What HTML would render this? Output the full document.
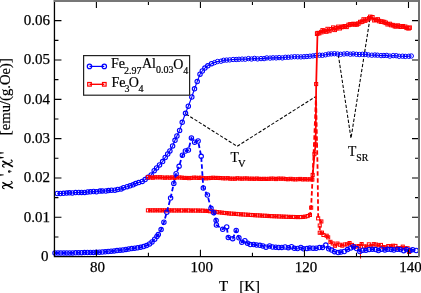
<!DOCTYPE html>
<html><head><meta charset="utf-8"><style>
html,body{margin:0;padding:0;background:#fff;}
body{width:421px;height:293px;overflow:hidden;}
svg{display:block;font-family:"Liberation Serif",serif;will-change:transform;}
</style></head><body>
<svg width="421" height="293" viewBox="0 0 421 293">
<rect width="421" height="293" fill="#fff"/>
<g font-size="15" fill="#000" stroke="#000" stroke-width="0.25"><text x="97.4" y="271.6" text-anchor="middle">80</text><text x="201.8" y="271.6" text-anchor="middle">100</text><text x="306.1" y="271.6" text-anchor="middle">120</text><text x="410.5" y="271.6" text-anchor="middle">140</text><text x="48.5" y="261.0" text-anchor="end">0</text><text x="49.9" y="221.7" text-anchor="end">0.01</text><text x="49.9" y="182.4" text-anchor="end">0.02</text><text x="49.9" y="143.1" text-anchor="end">0.03</text><text x="49.9" y="103.7" text-anchor="end">0.04</text><text x="49.9" y="64.4" text-anchor="end">0.05</text><text x="49.9" y="25.1" text-anchor="end">0.06</text></g>
<g fill="none" stroke="#000" stroke-width="1.05" stroke-dasharray="3.3,1.75">
<polyline points="186,114 237.1,146.3 315.5,96.7"/>
<polyline points="338.3,54.8 351,138.3 370.1,17.7"/>
</g>
<g font-size="14" fill="#000" stroke="#000" stroke-width="0.2">
<text x="230.4" y="162.1" font-size="13.6">T</text><text x="237.9" y="167.1" font-size="10.5">V</text>
<text x="348.0" y="155.8" font-size="13.6">T</text><text x="356.2" y="161.4" font-size="9.8">SR</text>
</g>
<g fill="none" stroke="#00f" stroke-width="1.1">
<polyline points="57.3,193.5 60.3,193.5 63.5,193.3 66.7,193.1 69.4,192.8 72.3,193.0 75.6,192.6 78.8,192.5 81.6,192.4 84.7,192.4 87.7,192.0 90.5,191.8 93.6,191.5 96.5,191.8 100.0,191.1 102.4,190.9 105.9,191.0 108.5,190.6 111.5,190.2 114.9,190.2 117.7,189.5 121.1,188.9 123.5,187.7 127.1,186.7 130.1,185.8 133.1,184.8 135.6,183.6 138.7,182.6 142.2,181.4 145.1,179.6 148.0,177.3 151.2,174.9 154.2,170.7 156.6,167.9 159.5,164.9 162.6,161.6 165.2,157.5 167.7,154.0 169.9,150.9 172.6,145.9 175.0,140.3 176.9,136.0 179.6,130.4 182.2,122.3 185.5,113.3 188.3,106.2 191.8,97.0 194.5,88.8 197.2,81.6 200.0,74.2 202.3,71.0 204.9,68.1 207.8,65.8 211.5,63.7 214.6,62.6 217.5,61.5 221.0,61.2 223.6,60.3 226.6,60.1 229.7,59.9 233.1,59.5 236.2,59.5 238.9,59.3 242.1,59.1 245.2,59.2 248.4,58.6 251.5,59.0 254.5,58.4 257.6,58.9 261.0,58.6 264.1,58.6 266.8,57.9 270.1,58.1 273.0,57.8 276.1,57.9 279.1,57.6 282.3,57.9 285.4,57.3 288.3,57.3 291.4,57.0 294.6,56.7 297.7,56.8 300.9,56.9 304.0,56.7 306.9,56.5 309.9,56.2 313.0,55.9 315.9,55.5 319.5,55.2 322.4,55.3 325.5,54.8 328.5,54.1 331.3,53.9 334.4,53.7 337.5,54.0 340.6,54.3 344.0,54.0 347.1,53.7 350.3,54.2 353.2,53.9 356.4,54.3 359.4,54.5 362.4,54.3 365.5,54.3 368.3,54.9 371.8,55.2 374.9,55.0 377.5,55.2 381.1,55.6 383.9,55.5 386.8,55.4 389.8,56.1 393.2,55.6 396.2,55.7 399.1,56.3 402.5,56.2 405.3,56.4 408.8,56.3 411.3,56.0" stroke-width="1.1"/>
<circle cx="57.3" cy="193.5" r="2.2"/><circle cx="60.3" cy="193.5" r="2.2"/><circle cx="63.5" cy="193.3" r="2.2"/><circle cx="66.7" cy="193.1" r="2.2"/><circle cx="69.4" cy="192.8" r="2.2"/><circle cx="72.3" cy="193.0" r="2.2"/><circle cx="75.6" cy="192.6" r="2.2"/><circle cx="78.8" cy="192.5" r="2.2"/><circle cx="81.6" cy="192.4" r="2.2"/><circle cx="84.7" cy="192.4" r="2.2"/><circle cx="87.7" cy="192.0" r="2.2"/><circle cx="90.5" cy="191.8" r="2.2"/><circle cx="93.6" cy="191.5" r="2.2"/><circle cx="96.5" cy="191.8" r="2.2"/><circle cx="100.0" cy="191.1" r="2.2"/><circle cx="102.4" cy="190.9" r="2.2"/><circle cx="105.9" cy="191.0" r="2.2"/><circle cx="108.5" cy="190.6" r="2.2"/><circle cx="111.5" cy="190.2" r="2.2"/><circle cx="114.9" cy="190.2" r="2.2"/><circle cx="117.7" cy="189.5" r="2.2"/><circle cx="121.1" cy="188.9" r="2.2"/><circle cx="123.5" cy="187.7" r="2.2"/><circle cx="127.1" cy="186.7" r="2.2"/><circle cx="130.1" cy="185.8" r="2.2"/><circle cx="133.1" cy="184.8" r="2.2"/><circle cx="135.6" cy="183.6" r="2.2"/><circle cx="138.7" cy="182.6" r="2.2"/><circle cx="142.2" cy="181.4" r="2.2"/><circle cx="145.1" cy="179.6" r="2.2"/><circle cx="148.0" cy="177.3" r="2.2"/><circle cx="151.2" cy="174.9" r="2.2"/><circle cx="154.2" cy="170.7" r="2.2"/><circle cx="156.6" cy="167.9" r="2.2"/><circle cx="159.5" cy="164.9" r="2.2"/><circle cx="162.6" cy="161.6" r="2.2"/><circle cx="165.2" cy="157.5" r="2.2"/><circle cx="167.7" cy="154.0" r="2.2"/><circle cx="169.9" cy="150.9" r="2.2"/><circle cx="172.6" cy="145.9" r="2.2"/><circle cx="175.0" cy="140.3" r="2.2"/><circle cx="176.9" cy="136.0" r="2.2"/><circle cx="179.6" cy="130.4" r="2.2"/><circle cx="182.2" cy="122.3" r="2.2"/><circle cx="185.5" cy="113.3" r="2.2"/><circle cx="188.3" cy="106.2" r="2.2"/><circle cx="191.8" cy="97.0" r="2.2"/><circle cx="194.5" cy="88.8" r="2.2"/><circle cx="197.2" cy="81.6" r="2.2"/><circle cx="200.0" cy="74.2" r="2.2"/><circle cx="202.3" cy="71.0" r="2.2"/><circle cx="204.9" cy="68.1" r="2.2"/><circle cx="207.8" cy="65.8" r="2.2"/><circle cx="211.5" cy="63.7" r="2.2"/><g stroke-width="1.0"><circle cx="214.6" cy="62.6" r="2.2"/><circle cx="217.5" cy="61.5" r="2.2"/><circle cx="221.0" cy="61.2" r="2.2"/><circle cx="223.6" cy="60.3" r="2.2"/><circle cx="226.6" cy="60.1" r="2.2"/><circle cx="229.7" cy="59.9" r="2.2"/><circle cx="233.1" cy="59.5" r="2.2"/><circle cx="236.2" cy="59.5" r="2.2"/><circle cx="238.9" cy="59.3" r="2.2"/><circle cx="242.1" cy="59.1" r="2.2"/><circle cx="245.2" cy="59.2" r="2.2"/><circle cx="248.4" cy="58.6" r="2.2"/><circle cx="251.5" cy="59.0" r="2.2"/><circle cx="254.5" cy="58.4" r="2.2"/><circle cx="257.6" cy="58.9" r="2.2"/><circle cx="261.0" cy="58.6" r="2.2"/><circle cx="264.1" cy="58.6" r="2.2"/><circle cx="266.8" cy="57.9" r="2.2"/><circle cx="270.1" cy="58.1" r="2.2"/><circle cx="273.0" cy="57.8" r="2.2"/><circle cx="276.1" cy="57.9" r="2.2"/><circle cx="279.1" cy="57.6" r="2.2"/><circle cx="282.3" cy="57.9" r="2.2"/><circle cx="285.4" cy="57.3" r="2.2"/><circle cx="288.3" cy="57.3" r="2.2"/><circle cx="291.4" cy="57.0" r="2.2"/><circle cx="294.6" cy="56.7" r="2.2"/><circle cx="297.7" cy="56.8" r="2.2"/><circle cx="300.9" cy="56.9" r="2.2"/><circle cx="304.0" cy="56.7" r="2.2"/><circle cx="306.9" cy="56.5" r="2.2"/><circle cx="309.9" cy="56.2" r="2.2"/><circle cx="313.0" cy="55.9" r="2.2"/><circle cx="315.9" cy="55.5" r="2.2"/><circle cx="319.5" cy="55.2" r="2.2"/><circle cx="322.4" cy="55.3" r="2.2"/><circle cx="325.5" cy="54.8" r="2.2"/><circle cx="328.5" cy="54.1" r="2.2"/><circle cx="331.3" cy="53.9" r="2.2"/><circle cx="334.4" cy="53.7" r="2.2"/><circle cx="337.5" cy="54.0" r="2.2"/><circle cx="340.6" cy="54.3" r="2.2"/><circle cx="344.0" cy="54.0" r="2.2"/><circle cx="347.1" cy="53.7" r="2.2"/><circle cx="350.3" cy="54.2" r="2.2"/><circle cx="353.2" cy="53.9" r="2.2"/><circle cx="356.4" cy="54.3" r="2.2"/><circle cx="359.4" cy="54.5" r="2.2"/><circle cx="362.4" cy="54.3" r="2.2"/><circle cx="365.5" cy="54.3" r="2.2"/><circle cx="368.3" cy="54.9" r="2.2"/><circle cx="371.8" cy="55.2" r="2.2"/><circle cx="374.9" cy="55.0" r="2.2"/><circle cx="377.5" cy="55.2" r="2.2"/><circle cx="381.1" cy="55.6" r="2.2"/><circle cx="383.9" cy="55.5" r="2.2"/><circle cx="386.8" cy="55.4" r="2.2"/><circle cx="389.8" cy="56.1" r="2.2"/><circle cx="393.2" cy="55.6" r="2.2"/><circle cx="396.2" cy="55.7" r="2.2"/><circle cx="399.1" cy="56.3" r="2.2"/><circle cx="402.5" cy="56.2" r="2.2"/><circle cx="405.3" cy="56.4" r="2.2"/><circle cx="408.8" cy="56.3" r="2.2"/><circle cx="411.3" cy="56.0" r="2.2"/></g>
</g>
<g fill="none" stroke="#f00" stroke-width="1.0">
<polyline points="148.0,177.2 150.4,177.4 152.8,177.8 155.2,177.2 157.7,177.4 160.1,177.3 162.5,177.5 164.9,177.8 167.3,177.5 169.7,177.7 172.2,177.3 174.6,178.0 177.0,177.4 179.4,177.4 181.8,177.7 184.2,178.0 186.7,177.9 189.1,178.1 191.5,178.0 193.9,177.7 196.3,177.7 198.7,178.0 201.2,177.6 203.6,178.1 206.0,178.2 208.4,178.1 210.8,178.0 213.2,177.8 215.7,177.9 218.1,178.0 220.5,178.1 222.9,178.3 225.3,178.4 227.7,178.1 230.2,178.6 232.6,178.6 235.0,178.7 237.4,178.3 239.8,178.6 242.2,178.6 244.6,178.4 247.1,178.4 249.5,178.8 251.9,178.6 254.3,178.9 256.7,178.6 259.1,178.9 261.6,178.9 264.0,178.9 266.4,179.0 268.8,178.9 271.2,178.7 273.6,178.6 276.1,179.1 278.5,178.5 280.9,178.8 283.3,178.7 285.7,179.0 288.1,179.3 290.6,178.9 293.0,179.3 295.4,179.3 297.8,179.2 300.2,178.9 302.6,179.4 305.1,179.2 307.5,179.4 309.9,179.2 312.3,179.6 314.5,154.2 315.6,144.4 316.2,84.0 317.5,33.0 317.2,33.8 319.2,33.1 321.3,32.2 322.6,30.4 324.2,31.1 326.2,31.5 327.7,29.0 329.3,31.0 331.0,29.3 333.3,27.7 334.7,29.9 336.1,28.4 338.4,26.8 339.8,28.2 341.6,27.0 343.0,26.7 344.8,26.3 346.5,26.9 348.5,25.0 350.1,24.5 351.7,24.3 353.6,23.9 355.2,24.4 356.8,24.5 358.4,23.5 360.3,22.1 362.1,21.7 363.7,19.5 365.1,20.6 367.2,19.5 369.3,18.4 370.2,16.9 372.4,17.2 374.4,20.2 376.0,19.7 377.7,19.5 379.0,21.0 381.1,21.6 382.3,21.7 384.2,22.1 385.8,22.8 387.7,24.2 389.7,23.9 391.1,25.0 393.2,25.1 394.8,26.2 395.9,26.3 397.8,25.5 400.0,26.6 401.2,26.7 402.8,26.2 405.1,26.7 406.7,27.9 408.5,28.3 409.6,27.7" stroke-width="1.75"/>
<rect x="146.4" y="175.7" width="3.1" height="3.1"/><rect x="148.9" y="175.9" width="3.1" height="3.1"/><rect x="151.3" y="176.2" width="3.1" height="3.1"/><rect x="153.7" y="175.7" width="3.1" height="3.1"/><rect x="156.1" y="175.8" width="3.1" height="3.1"/><rect x="158.5" y="175.7" width="3.1" height="3.1"/><rect x="160.9" y="175.9" width="3.1" height="3.1"/><rect x="163.4" y="176.2" width="3.1" height="3.1"/><rect x="165.8" y="175.9" width="3.1" height="3.1"/><rect x="168.2" y="176.2" width="3.1" height="3.1"/><rect x="170.6" y="175.8" width="3.1" height="3.1"/><rect x="173.0" y="176.4" width="3.1" height="3.1"/><rect x="175.4" y="175.8" width="3.1" height="3.1"/><rect x="177.9" y="175.9" width="3.1" height="3.1"/><rect x="180.3" y="176.1" width="3.1" height="3.1"/><rect x="182.7" y="176.4" width="3.1" height="3.1"/><rect x="185.1" y="176.4" width="3.1" height="3.1"/><rect x="187.5" y="176.6" width="3.1" height="3.1"/><rect x="189.9" y="176.4" width="3.1" height="3.1"/><rect x="192.4" y="176.1" width="3.1" height="3.1"/><rect x="194.8" y="176.2" width="3.1" height="3.1"/><rect x="197.2" y="176.4" width="3.1" height="3.1"/><rect x="199.6" y="176.1" width="3.1" height="3.1"/><rect x="202.0" y="176.6" width="3.1" height="3.1"/><rect x="204.4" y="176.7" width="3.1" height="3.1"/><rect x="206.9" y="176.6" width="3.1" height="3.1"/><rect x="209.3" y="176.4" width="3.1" height="3.1"/><rect x="211.7" y="176.2" width="3.1" height="3.1"/><rect x="214.1" y="176.4" width="3.1" height="3.1"/><rect x="216.5" y="176.4" width="3.1" height="3.1"/><rect x="218.9" y="176.5" width="3.1" height="3.1"/><rect x="221.4" y="176.7" width="3.1" height="3.1"/><rect x="223.8" y="176.8" width="3.1" height="3.1"/><rect x="226.2" y="176.6" width="3.1" height="3.1"/><rect x="228.6" y="177.1" width="3.1" height="3.1"/><rect x="231.0" y="177.1" width="3.1" height="3.1"/><rect x="233.4" y="177.2" width="3.1" height="3.1"/><rect x="235.8" y="176.7" width="3.1" height="3.1"/><rect x="238.3" y="177.0" width="3.1" height="3.1"/><rect x="240.7" y="177.1" width="3.1" height="3.1"/><rect x="243.1" y="176.9" width="3.1" height="3.1"/><rect x="245.5" y="176.9" width="3.1" height="3.1"/><rect x="247.9" y="177.2" width="3.1" height="3.1"/><rect x="250.3" y="177.1" width="3.1" height="3.1"/><rect x="252.8" y="177.3" width="3.1" height="3.1"/><rect x="255.2" y="177.0" width="3.1" height="3.1"/><rect x="257.6" y="177.3" width="3.1" height="3.1"/><rect x="260.0" y="177.4" width="3.1" height="3.1"/><rect x="262.4" y="177.3" width="3.1" height="3.1"/><rect x="264.8" y="177.4" width="3.1" height="3.1"/><rect x="267.3" y="177.3" width="3.1" height="3.1"/><rect x="269.7" y="177.1" width="3.1" height="3.1"/><rect x="272.1" y="177.1" width="3.1" height="3.1"/><rect x="274.5" y="177.5" width="3.1" height="3.1"/><rect x="276.9" y="177.0" width="3.1" height="3.1"/><rect x="279.3" y="177.2" width="3.1" height="3.1"/><rect x="281.8" y="177.1" width="3.1" height="3.1"/><rect x="284.2" y="177.5" width="3.1" height="3.1"/><rect x="286.6" y="177.7" width="3.1" height="3.1"/><rect x="289.0" y="177.3" width="3.1" height="3.1"/><rect x="291.4" y="177.7" width="3.1" height="3.1"/><rect x="293.8" y="177.8" width="3.1" height="3.1"/><rect x="296.3" y="177.7" width="3.1" height="3.1"/><rect x="298.7" y="177.4" width="3.1" height="3.1"/><rect x="301.1" y="177.9" width="3.1" height="3.1"/><rect x="303.5" y="177.6" width="3.1" height="3.1"/><rect x="305.9" y="177.9" width="3.1" height="3.1"/><rect x="308.3" y="177.7" width="3.1" height="3.1"/><rect x="310.8" y="178.0" width="3.1" height="3.1"/><rect x="312.9" y="152.6" width="3.1" height="3.1"/><rect x="314.1" y="142.8" width="3.1" height="3.1"/><rect x="314.6" y="82.5" width="3.1" height="3.1"/><rect x="315.9" y="31.4" width="3.1" height="3.1"/><rect x="315.4" y="32.0" width="3.5" height="3.5"/><rect x="317.4" y="31.4" width="3.5" height="3.5"/><rect x="319.6" y="30.4" width="3.5" height="3.5"/><rect x="320.9" y="28.6" width="3.5" height="3.5"/><rect x="322.4" y="29.4" width="3.5" height="3.5"/><rect x="324.5" y="29.8" width="3.5" height="3.5"/><rect x="325.9" y="27.3" width="3.5" height="3.5"/><rect x="327.6" y="29.2" width="3.5" height="3.5"/><rect x="329.2" y="27.5" width="3.5" height="3.5"/><rect x="331.5" y="25.9" width="3.5" height="3.5"/><rect x="333.0" y="28.1" width="3.5" height="3.5"/><rect x="334.4" y="26.6" width="3.5" height="3.5"/><rect x="336.6" y="25.1" width="3.5" height="3.5"/><rect x="338.0" y="26.5" width="3.5" height="3.5"/><rect x="339.9" y="25.3" width="3.5" height="3.5"/><rect x="341.2" y="25.0" width="3.5" height="3.5"/><rect x="343.1" y="24.5" width="3.5" height="3.5"/><rect x="344.8" y="25.1" width="3.5" height="3.5"/><rect x="346.8" y="23.2" width="3.5" height="3.5"/><rect x="348.4" y="22.7" width="3.5" height="3.5"/><rect x="350.0" y="22.5" width="3.5" height="3.5"/><rect x="351.8" y="22.2" width="3.5" height="3.5"/><rect x="353.4" y="22.7" width="3.5" height="3.5"/><rect x="355.1" y="22.7" width="3.5" height="3.5"/><rect x="356.6" y="21.8" width="3.5" height="3.5"/><rect x="358.5" y="20.3" width="3.5" height="3.5"/><rect x="360.4" y="19.9" width="3.5" height="3.5"/><rect x="361.9" y="17.7" width="3.5" height="3.5"/><rect x="363.4" y="18.9" width="3.5" height="3.5"/><rect x="365.4" y="17.7" width="3.5" height="3.5"/><rect x="367.5" y="16.6" width="3.5" height="3.5"/><rect x="368.5" y="15.1" width="3.5" height="3.5"/><rect x="370.6" y="15.5" width="3.5" height="3.5"/><rect x="372.6" y="18.5" width="3.5" height="3.5"/><rect x="374.3" y="18.0" width="3.5" height="3.5"/><rect x="376.0" y="17.7" width="3.5" height="3.5"/><rect x="377.3" y="19.3" width="3.5" height="3.5"/><rect x="379.3" y="19.9" width="3.5" height="3.5"/><rect x="380.6" y="20.0" width="3.5" height="3.5"/><rect x="382.4" y="20.3" width="3.5" height="3.5"/><rect x="384.0" y="21.1" width="3.5" height="3.5"/><rect x="385.9" y="22.5" width="3.5" height="3.5"/><rect x="387.9" y="22.2" width="3.5" height="3.5"/><rect x="389.4" y="23.3" width="3.5" height="3.5"/><rect x="391.4" y="23.4" width="3.5" height="3.5"/><rect x="393.1" y="24.4" width="3.5" height="3.5"/><rect x="394.2" y="24.6" width="3.5" height="3.5"/><rect x="396.1" y="23.8" width="3.5" height="3.5"/><rect x="398.2" y="24.8" width="3.5" height="3.5"/><rect x="399.4" y="25.0" width="3.5" height="3.5"/><rect x="401.1" y="24.5" width="3.5" height="3.5"/><rect x="403.4" y="25.0" width="3.5" height="3.5"/><rect x="404.9" y="26.1" width="3.5" height="3.5"/><rect x="406.8" y="26.6" width="3.5" height="3.5"/><rect x="407.9" y="25.9" width="3.5" height="3.5"/>
<polyline points="148.0,210.3 150.4,210.3 152.8,210.3 155.1,210.3 157.5,210.3 159.9,210.3 162.3,210.4 164.7,210.4 167.1,210.4 169.4,210.4 171.8,210.4 174.2,210.4 176.6,210.4 179.0,210.4 181.4,210.5 183.7,210.5 186.1,210.5 188.5,210.5 190.9,210.5 193.3,210.5 195.6,210.6 198.0,210.6 200.4,210.6 202.8,210.7 205.2,210.8 207.6,211.0 209.9,211.2 212.3,211.5 214.7,211.8 217.1,212.1 219.5,212.4 221.9,212.7 224.2,212.9 226.6,213.2 229.0,213.4 231.4,213.6 233.8,213.8 236.1,214.0 238.5,214.1 240.9,214.3 243.3,214.5 245.7,214.6 248.1,214.8 250.4,214.9 252.8,215.1 255.2,215.2 257.6,215.4 260.0,215.5 262.4,215.6 264.7,215.8 267.1,215.9 269.5,216.0 271.9,216.1 274.3,216.3 276.6,216.4 279.0,216.5 281.4,216.6 283.8,216.7 286.2,216.7 288.6,216.8 290.9,216.9 293.3,217.0 295.7,217.1 298.1,217.1 300.5,217.1 302.9,216.9 305.2,216.6 307.6,216.0 310.0,214.9 311.1,207.7 312.7,175.0 316.0,96.0 317.6,170.0 318.2,218.4 321.3,221.5 319.8,225.6 319.8,232.8 322.0,232.7 323.5,235.0 326.6,235.8 328.2,237.3 330.5,241.9 332.8,243.5 335.0,245.8 337.4,243.5 339.8,244.8 342.3,245.6 344.7,244.5 347.1,244.4 349.5,243.0 351.9,244.9 354.4,246.7 356.8,246.4 359.2,246.0 361.6,244.0 364.0,246.6 366.5,246.5 368.9,244.3 371.3,245.9 373.7,244.1 376.1,244.5 378.5,245.3 381.0,244.9 383.4,247.0 385.8,247.4 388.2,246.1 390.6,246.2 393.1,245.8 395.5,245.9 397.9,248.2 400.3,248.1 402.7,246.7 405.2,248.3 407.6,248.3 410.0,249.9" stroke-width="1.8" stroke-dasharray="4.5,2.5"/>
<rect x="146.4" y="208.8" width="3.1" height="3.1"/><rect x="148.8" y="208.8" width="3.1" height="3.1"/><rect x="151.2" y="208.8" width="3.1" height="3.1"/><rect x="153.6" y="208.8" width="3.1" height="3.1"/><rect x="156.0" y="208.8" width="3.1" height="3.1"/><rect x="158.4" y="208.8" width="3.1" height="3.1"/><rect x="160.7" y="208.8" width="3.1" height="3.1"/><rect x="163.1" y="208.8" width="3.1" height="3.1"/><rect x="165.5" y="208.8" width="3.1" height="3.1"/><rect x="167.9" y="208.8" width="3.1" height="3.1"/><rect x="170.3" y="208.9" width="3.1" height="3.1"/><rect x="172.7" y="208.9" width="3.1" height="3.1"/><rect x="175.0" y="208.9" width="3.1" height="3.1"/><rect x="177.4" y="208.9" width="3.1" height="3.1"/><rect x="179.8" y="208.9" width="3.1" height="3.1"/><rect x="182.2" y="208.9" width="3.1" height="3.1"/><rect x="184.6" y="208.9" width="3.1" height="3.1"/><rect x="186.9" y="208.9" width="3.1" height="3.1"/><rect x="189.3" y="209.0" width="3.1" height="3.1"/><rect x="191.7" y="209.0" width="3.1" height="3.1"/><rect x="194.1" y="209.0" width="3.1" height="3.1"/><rect x="196.5" y="209.0" width="3.1" height="3.1"/><rect x="198.9" y="209.1" width="3.1" height="3.1"/><rect x="201.2" y="209.1" width="3.1" height="3.1"/><rect x="203.6" y="209.3" width="3.1" height="3.1"/><rect x="206.0" y="209.4" width="3.1" height="3.1"/><rect x="208.4" y="209.7" width="3.1" height="3.1"/><rect x="210.8" y="209.9" width="3.1" height="3.1"/><rect x="213.2" y="210.2" width="3.1" height="3.1"/><rect x="215.5" y="210.5" width="3.1" height="3.1"/><rect x="217.9" y="210.8" width="3.1" height="3.1"/><rect x="220.3" y="211.1" width="3.1" height="3.1"/><rect x="222.7" y="211.4" width="3.1" height="3.1"/><rect x="225.1" y="211.6" width="3.1" height="3.1"/><rect x="227.4" y="211.9" width="3.1" height="3.1"/><rect x="229.8" y="212.1" width="3.1" height="3.1"/><rect x="232.2" y="212.2" width="3.1" height="3.1"/><rect x="234.6" y="212.4" width="3.1" height="3.1"/><rect x="237.0" y="212.6" width="3.1" height="3.1"/><rect x="239.4" y="212.8" width="3.1" height="3.1"/><rect x="241.7" y="212.9" width="3.1" height="3.1"/><rect x="244.1" y="213.1" width="3.1" height="3.1"/><rect x="246.5" y="213.2" width="3.1" height="3.1"/><rect x="248.9" y="213.4" width="3.1" height="3.1"/><rect x="251.3" y="213.5" width="3.1" height="3.1"/><rect x="253.7" y="213.7" width="3.1" height="3.1"/><rect x="256.0" y="213.8" width="3.1" height="3.1"/><rect x="258.4" y="213.9" width="3.1" height="3.1"/><rect x="260.8" y="214.1" width="3.1" height="3.1"/><rect x="263.2" y="214.2" width="3.1" height="3.1"/><rect x="265.6" y="214.3" width="3.1" height="3.1"/><rect x="267.9" y="214.5" width="3.1" height="3.1"/><rect x="270.3" y="214.6" width="3.1" height="3.1"/><rect x="272.7" y="214.7" width="3.1" height="3.1"/><rect x="275.1" y="214.8" width="3.1" height="3.1"/><rect x="277.5" y="214.9" width="3.1" height="3.1"/><rect x="279.9" y="215.0" width="3.1" height="3.1"/><rect x="282.2" y="215.1" width="3.1" height="3.1"/><rect x="284.6" y="215.2" width="3.1" height="3.1"/><rect x="287.0" y="215.3" width="3.1" height="3.1"/><rect x="289.4" y="215.4" width="3.1" height="3.1"/><rect x="291.8" y="215.4" width="3.1" height="3.1"/><rect x="294.2" y="215.5" width="3.1" height="3.1"/><rect x="296.5" y="215.5" width="3.1" height="3.1"/><rect x="298.9" y="215.5" width="3.1" height="3.1"/><rect x="301.3" y="215.4" width="3.1" height="3.1"/><rect x="303.7" y="215.1" width="3.1" height="3.1"/><rect x="306.1" y="214.5" width="3.1" height="3.1"/><rect x="308.4" y="213.4" width="3.1" height="3.1"/><rect x="309.6" y="206.1" width="3.1" height="3.1"/><rect x="311.1" y="173.4" width="3.1" height="3.1"/><rect x="316.6" y="216.8" width="3.1" height="3.1"/><rect x="319.8" y="219.9" width="3.1" height="3.1"/><rect x="318.2" y="224.0" width="3.1" height="3.1"/><rect x="318.2" y="231.2" width="3.1" height="3.1"/><rect x="320.4" y="231.1" width="3.1" height="3.1"/><rect x="321.9" y="233.4" width="3.1" height="3.1"/><rect x="325.1" y="234.2" width="3.1" height="3.1"/><rect x="326.6" y="235.8" width="3.1" height="3.1"/><rect x="328.9" y="240.3" width="3.1" height="3.1"/><rect x="331.2" y="241.9" width="3.1" height="3.1"/><rect x="333.4" y="244.2" width="3.1" height="3.1"/><rect x="335.9" y="242.0" width="3.1" height="3.1"/><rect x="338.3" y="243.2" width="3.1" height="3.1"/><rect x="340.7" y="244.1" width="3.1" height="3.1"/><rect x="343.1" y="242.9" width="3.1" height="3.1"/><rect x="345.5" y="242.8" width="3.1" height="3.1"/><rect x="348.0" y="241.5" width="3.1" height="3.1"/><rect x="350.4" y="243.4" width="3.1" height="3.1"/><rect x="352.8" y="245.1" width="3.1" height="3.1"/><rect x="355.2" y="244.9" width="3.1" height="3.1"/><rect x="357.6" y="244.5" width="3.1" height="3.1"/><rect x="360.1" y="242.5" width="3.1" height="3.1"/><rect x="362.5" y="245.0" width="3.1" height="3.1"/><rect x="364.9" y="244.9" width="3.1" height="3.1"/><rect x="367.3" y="242.8" width="3.1" height="3.1"/><rect x="369.7" y="244.4" width="3.1" height="3.1"/><rect x="372.2" y="242.6" width="3.1" height="3.1"/><rect x="374.6" y="243.0" width="3.1" height="3.1"/><rect x="377.0" y="243.7" width="3.1" height="3.1"/><rect x="379.4" y="243.4" width="3.1" height="3.1"/><rect x="381.8" y="245.5" width="3.1" height="3.1"/><rect x="384.3" y="245.8" width="3.1" height="3.1"/><rect x="386.7" y="244.5" width="3.1" height="3.1"/><rect x="389.1" y="244.6" width="3.1" height="3.1"/><rect x="391.5" y="244.2" width="3.1" height="3.1"/><rect x="393.9" y="244.4" width="3.1" height="3.1"/><rect x="396.4" y="246.7" width="3.1" height="3.1"/><rect x="398.8" y="246.6" width="3.1" height="3.1"/><rect x="401.2" y="245.1" width="3.1" height="3.1"/><rect x="403.6" y="246.7" width="3.1" height="3.1"/><rect x="406.0" y="246.7" width="3.1" height="3.1"/><rect x="408.4" y="248.4" width="3.1" height="3.1"/><rect x="407.6" y="250.4" width="3.1" height="3.1"/><path d="M360.2,248 L360.6,258.6" stroke-width="1"/>
</g>
<g fill="none" stroke="#00f" stroke-width="1.1">
<polyline points="55.0,253.0 58.0,253.0 60.9,253.0 63.9,253.0 66.8,252.9 69.8,252.9 72.7,252.9 75.7,252.8 78.6,252.7 81.6,252.7 84.5,252.6 87.5,252.5 90.4,252.5 93.4,252.4 96.3,252.3 99.3,252.2 102.2,252.0 105.2,251.8 108.2,251.5 111.1,251.2 114.1,250.9 117.0,250.6 120.0,250.2 122.9,249.9 125.9,249.4 128.8,249.0 131.8,248.6 134.7,248.2 137.7,247.8 140.6,247.3 143.6,246.6 146.5,245.6 149.5,243.9 152.0,241.9 154.7,239.2 156.9,236.5 158.3,234.6 161.1,229.6 163.9,222.2 166.8,212.2 170.6,198.0 173.8,183.4 176.1,173.7 179.1,166.3 182.4,155.2 185.4,151.0 188.4,150.1 191.4,138.0 194.6,142.2 198.1,141.0 201.2,156.3 203.3,188.0 207.4,195.0 211.0,208.3 213.8,212.7 216.1,220.5 216.4,225.0 222.7,229.3 226.7,226.9 228.3,237.5 232.7,238.7 236.2,230.4 238.9,237.8 241.8,242.3 244.9,240.7 247.5,243.2 250.3,244.6 253.7,244.5 256.6,245.0 259.9,245.3 262.9,245.9 266.0,247.2 269.6,245.9 272.6,247.0 275.8,247.2 278.7,247.4 281.8,247.4 285.1,247.0 288.3,247.7 291.5,246.7 294.3,248.3 297.5,248.5 300.8,247.5 303.5,248.8 307.0,248.6 309.8,248.1 313.1,248.2 316.1,248.2 319.5,247.6 322.5,247.4 325.8,245.1 328.7,248.8 331.7,250.1 334.6,251.7 338.2,252.6 340.9,252.1 344.2,251.5 347.5,249.6 350.7,247.9 353.5,246.7 356.6,248.6 359.8,251.5 362.8,250.2 365.9,250.3 369.1,249.5 372.3,249.2 375.6,249.6 378.4,250.6 381.5,249.2 384.9,249.9 387.7,249.3 391.1,249.6 393.9,250.1 397.4,249.3 400.4,249.5 403.7,250.7 406.5,249.6 410.0,250.4 412.7,249.7 416.2,250.5" stroke-width="1.8" stroke-dasharray="4.5,2.5"/>
<circle cx="55.0" cy="253.0" r="2.2"/><circle cx="58.0" cy="253.0" r="2.2"/><circle cx="60.9" cy="253.0" r="2.2"/><circle cx="63.9" cy="253.0" r="2.2"/><circle cx="66.8" cy="252.9" r="2.2"/><circle cx="69.8" cy="252.9" r="2.2"/><circle cx="72.7" cy="252.9" r="2.2"/><circle cx="75.7" cy="252.8" r="2.2"/><circle cx="78.6" cy="252.7" r="2.2"/><circle cx="81.6" cy="252.7" r="2.2"/><circle cx="84.5" cy="252.6" r="2.2"/><circle cx="87.5" cy="252.5" r="2.2"/><circle cx="90.4" cy="252.5" r="2.2"/><circle cx="93.4" cy="252.4" r="2.2"/><circle cx="96.3" cy="252.3" r="2.2"/><circle cx="99.3" cy="252.2" r="2.2"/><circle cx="102.2" cy="252.0" r="2.2"/><circle cx="105.2" cy="251.8" r="2.2"/><circle cx="108.2" cy="251.5" r="2.2"/><circle cx="111.1" cy="251.2" r="2.2"/><circle cx="114.1" cy="250.9" r="2.2"/><circle cx="117.0" cy="250.6" r="2.2"/><circle cx="120.0" cy="250.2" r="2.2"/><circle cx="122.9" cy="249.9" r="2.2"/><circle cx="125.9" cy="249.4" r="2.2"/><circle cx="128.8" cy="249.0" r="2.2"/><circle cx="131.8" cy="248.6" r="2.2"/><circle cx="134.7" cy="248.2" r="2.2"/><circle cx="137.7" cy="247.8" r="2.2"/><circle cx="140.6" cy="247.3" r="2.2"/><circle cx="143.6" cy="246.6" r="2.2"/><circle cx="146.5" cy="245.6" r="2.2"/><circle cx="149.5" cy="243.9" r="2.2"/><circle cx="152.0" cy="241.9" r="2.2"/><circle cx="154.7" cy="239.2" r="2.2"/><circle cx="156.9" cy="236.5" r="2.2"/><circle cx="158.3" cy="234.6" r="2.2"/><circle cx="161.1" cy="229.6" r="2.2"/><circle cx="163.9" cy="222.2" r="2.2"/><circle cx="166.8" cy="212.2" r="2.2"/><circle cx="170.6" cy="198.0" r="2.2"/><circle cx="173.8" cy="183.4" r="2.2"/><circle cx="176.1" cy="173.7" r="2.2"/><circle cx="179.1" cy="166.3" r="2.2"/><circle cx="182.4" cy="155.2" r="2.2"/><circle cx="185.4" cy="151.0" r="2.2"/><circle cx="188.4" cy="150.1" r="2.2"/><circle cx="191.4" cy="138.0" r="2.2"/><circle cx="194.6" cy="142.2" r="2.2"/><circle cx="198.1" cy="141.0" r="2.2"/><circle cx="201.2" cy="156.3" r="2.2"/><circle cx="203.3" cy="188.0" r="2.2"/><circle cx="207.4" cy="195.0" r="2.2"/><circle cx="211.0" cy="208.3" r="2.2"/><circle cx="213.8" cy="212.7" r="2.2"/><circle cx="216.1" cy="220.5" r="2.2"/><circle cx="216.4" cy="225.0" r="2.2"/><circle cx="222.7" cy="229.3" r="2.2"/><circle cx="226.7" cy="226.9" r="2.2"/><circle cx="228.3" cy="237.5" r="2.2"/><circle cx="232.7" cy="238.7" r="2.2"/><circle cx="236.2" cy="230.4" r="2.2"/><circle cx="238.9" cy="237.8" r="2.2"/><circle cx="241.8" cy="242.3" r="2.2"/><circle cx="244.9" cy="240.7" r="2.2"/><circle cx="247.5" cy="243.2" r="2.2"/><circle cx="250.3" cy="244.6" r="2.2"/><circle cx="253.7" cy="244.5" r="2.2"/><circle cx="256.6" cy="245.0" r="2.2"/><circle cx="259.9" cy="245.3" r="2.2"/><circle cx="262.9" cy="245.9" r="2.2"/><circle cx="266.0" cy="247.2" r="2.2"/><circle cx="269.6" cy="245.9" r="2.2"/><circle cx="272.6" cy="247.0" r="2.2"/><circle cx="275.8" cy="247.2" r="2.2"/><circle cx="278.7" cy="247.4" r="2.2"/><circle cx="281.8" cy="247.4" r="2.2"/><circle cx="285.1" cy="247.0" r="2.2"/><circle cx="288.3" cy="247.7" r="2.2"/><circle cx="291.5" cy="246.7" r="2.2"/><circle cx="294.3" cy="248.3" r="2.2"/><circle cx="297.5" cy="248.5" r="2.2"/><circle cx="300.8" cy="247.5" r="2.2"/><circle cx="303.5" cy="248.8" r="2.2"/><circle cx="307.0" cy="248.6" r="2.2"/><circle cx="309.8" cy="248.1" r="2.2"/><circle cx="313.1" cy="248.2" r="2.2"/><circle cx="316.1" cy="248.2" r="2.2"/><circle cx="319.5" cy="247.6" r="2.2"/><circle cx="322.5" cy="247.4" r="2.2"/><circle cx="325.8" cy="245.1" r="2.2"/><circle cx="328.7" cy="248.8" r="2.2"/><circle cx="331.7" cy="250.1" r="2.2"/><circle cx="334.6" cy="251.7" r="2.2"/><circle cx="338.2" cy="252.6" r="2.2"/><circle cx="340.9" cy="252.1" r="2.2"/><circle cx="344.2" cy="251.5" r="2.2"/><circle cx="347.5" cy="249.6" r="2.2"/><circle cx="350.7" cy="247.9" r="2.2"/><circle cx="353.5" cy="246.7" r="2.2"/><circle cx="356.6" cy="248.6" r="2.2"/><circle cx="359.8" cy="251.5" r="2.2"/><circle cx="362.8" cy="250.2" r="2.2"/><circle cx="365.9" cy="250.3" r="2.2"/><circle cx="369.1" cy="249.5" r="2.2"/><circle cx="372.3" cy="249.2" r="2.2"/><circle cx="375.6" cy="249.6" r="2.2"/><circle cx="378.4" cy="250.6" r="2.2"/><circle cx="381.5" cy="249.2" r="2.2"/><circle cx="384.9" cy="249.9" r="2.2"/><circle cx="387.7" cy="249.3" r="2.2"/><circle cx="391.1" cy="249.6" r="2.2"/><circle cx="393.9" cy="250.1" r="2.2"/><circle cx="397.4" cy="249.3" r="2.2"/><circle cx="400.4" cy="249.5" r="2.2"/><circle cx="403.7" cy="250.7" r="2.2"/><circle cx="406.5" cy="249.6" r="2.2"/><circle cx="410.0" cy="250.4" r="2.2"/><circle cx="412.7" cy="249.7" r="2.2"/><circle cx="416.2" cy="250.5" r="2.2"/>
</g>
<path d="M96.40,256.65v-7M96.40,1.0v7M148.42,256.65v-4M148.42,1.0v4M200.43,256.65v-7M200.43,1.0v7M252.45,256.65v-4M252.45,1.0v4M304.47,256.65v-7M304.47,1.0v7M356.49,256.65v-4M356.49,1.0v4M408.50,256.65v-7M408.50,1.0v7M54.45,236.98h4M419.0,236.98h-4M54.45,217.32h7M419.0,217.32h-7M54.45,197.65h4M419.0,197.65h-4M54.45,177.99h7M419.0,177.99h-7M54.45,158.32h4M419.0,158.32h-4M54.45,138.66h7M419.0,138.66h-7M54.45,118.99h4M419.0,118.99h-4M54.45,99.33h7M419.0,99.33h-7M54.45,79.66h4M419.0,79.66h-4M54.45,60.00h7M419.0,60.00h-7M54.45,40.33h4M419.0,40.33h-4M54.45,20.67h7M419.0,20.67h-7" stroke="#000" stroke-width="1.1" fill="none"/>
<path d="M54.45,0V256.65H419.0" stroke="#000" stroke-width="1.3" fill="none"/>
<rect x="53.800000000000004" y="0" width="366.20" height="2" fill="#777"/>
<rect x="418" y="0" width="2" height="257.30" fill="#707070"/>
<g>
<rect x="83.6" y="55.6" width="106.0" height="39.6" fill="#fff" stroke="#222" stroke-width="1.2"/>
<g stroke="#00f" stroke-width="1.2" fill="none"><line x1="89.5" y1="66.4" x2="104.3" y2="66.4"/><circle cx="89.5" cy="66.4" r="2.2"/><circle cx="104.3" cy="66.4" r="2.2"/></g>
<g stroke="#f00" stroke-width="1.4" fill="none"><line x1="89.5" y1="84.3" x2="104.3" y2="84.3"/><rect x="87.7" y="82.5" width="3.6" height="3.6" stroke-width="1.2"/><rect x="102.5" y="82.5" width="3.6" height="3.6" stroke-width="1.2"/></g>
<g font-size="14" fill="#000" stroke="#000" stroke-width="0.2">
<text x="111" y="68.4">Fe</text><text x="124" y="73.8" font-size="10">2.97</text><text x="142" y="68.4">Al</text><text x="156.1" y="73.4" font-size="10">0.03</text><text x="173.3" y="68.6">O</text><text x="183.2" y="73.6" font-size="10">4</text>
<text x="111.5" y="86.8">Fe</text><text x="124.6" y="92.2" font-size="10">3</text><text x="128.8" y="86.8">O</text><text x="138.6" y="92.2" font-size="10">4</text>
</g>
</g>
<g font-size="15" fill="#000" stroke="#000" stroke-width="0.2">
<text x="219" y="290.8">T</text><text x="239.2" y="290.8">[K]</text>
<text transform="translate(10.2,0) rotate(-90)" x="-135.2" y="0" font-size="14.7">[emu/(g.Oe)]</text>
</g>
<g fill="none" stroke="#000">
<path d="M2.4,182.4 L12.9,188.2" stroke-width="1.6"/>
<path d="M4.6,188.7 C3.2,188.7 2.3,187.7 2.5,186.7 C2.8,185.7 4,185.3 6.5,185.1 C9,184.9 11.1,184.3 11.9,183.4 C12.5,182.6 12.1,181.6 10.8,181.3" stroke-width="1.1"/>
</g>
<g fill="none" stroke="#000" transform="translate(0,-21.4)">
<path d="M2.4,182.4 L12.9,188.2" stroke-width="1.6"/>
<path d="M4.6,188.7 C3.2,188.7 2.3,187.7 2.5,186.7 C2.8,185.7 4,185.3 6.5,185.1 C9,184.9 11.1,184.3 11.9,183.4 C12.5,182.6 12.1,181.6 10.8,181.3" stroke-width="1.1"/>
</g>
<g fill="#000">
<polygon points="-1,174.0 -1,176.0 3.7,175.3 3.7,174.6"/>
<polygon points="-1,152.0 -1,154.0 3.7,153.3 3.7,152.6"/>
<polygon points="-1,156.6 -1,158.6 3.7,157.9 3.7,157.2"/>
<circle cx="9.2" cy="171.5" r="1.2"/>
<path d="M9.5,170.6 L11.6,171.1 L11.6,171.7 L9.5,172.4Z" fill="#555"/>

</g>
</svg>
</body></html>
